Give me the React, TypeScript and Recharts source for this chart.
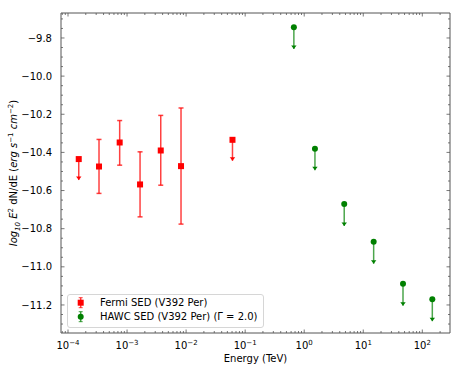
import React from 'react';
import { ComposedChart, Scatter, XAxis, YAxis, ErrorBar, Legend, Label, ReferenceLine } from 'recharts';

// ---------- data ----------
const fermiEnergy = [1.52e-4, 3.35e-4, 7.5e-4, 1.66e-3, 3.72e-3, 8.2e-3, 0.061];
const fermiFlux = [-10.435, -10.474, -10.348, -10.568, -10.39, -10.472, -10.334];
const fermiErrLow = [0.11, 0.141, 0.119, 0.17, 0.182, 0.304, 0.11];
const fermiErrHigh = [0, 0.142, 0.115, 0.171, 0.184, 0.305, 0];
const fermiUpperLimit = [true, false, false, false, false, false, true];

const hawcEnergy = [0.668, 1.52, 4.76, 15.0, 47.1, 147.7];
const hawcFlux = [-9.744, -10.381, -10.671, -10.869, -11.089, -11.17];
const hawcArrow = [0.114, 0.112, 0.115, 0.115, 0.115, 0.115];

const seriesNames = ['Fermi SED (V392 Per)', 'HAWC SED (V392 Per) (\u0393 = 2.0)'];
const xTickExponents = [-4, -3, -2, -1, 0, 1, 2];
const yMajorTicks = [-11.2, -11.0, -10.8, -10.6, -10.4, -10.2, -10.0, -9.8];
const xDomain = [7.61e-5, 294.4];
const yDomain = [-11.347, -9.669];

// ---------- derived tables ----------
const fermiDet = fermiEnergy
  .map((e, i) => ({ x: e, y: fermiFlux[i], err: [fermiErrLow[i], fermiErrHigh[i]], ul: fermiUpperLimit[i] }))
  .filter((d) => !d.ul);
const fermiUL = fermiEnergy
  .map((e, i) => ({ x: e, y: fermiFlux[i], err: [fermiErrLow[i], 0], ul: fermiUpperLimit[i] }))
  .filter((d) => d.ul);
const fermiTips = fermiUL.map((d) => ({ x: d.x, y: d.y - d.err[0] }));
const hawcData = hawcEnergy.map((e, i) => ({ x: e, y: hawcFlux[i], err: [hawcArrow[i], 0] }));
const hawcTips = hawcData.map((d) => ({ x: d.x, y: d.y - d.err[0] }));

const xTicks: number[] = [];
[-5, ...xTickExponents].forEach((p) => {
  for (let m = 1; m <= 9; m++) {
    const v = m * Math.pow(10, p);
    if (v >= xDomain[0] && v <= xDomain[1]) xTicks.push(Number(v.toPrecision(6)));
  }
});
const yTicks: number[] = [];
for (let k = -11.3; k <= -9.69; k += 0.05) yTicks.push(Number(k.toFixed(2)));

// ---------- layout ----------
const W = 463;
const H = 371;
const PLOT_LEFT = 61;
const PLOT_RIGHT = 450;
const PLOT_TOP = 13;
const PLOT_BOTTOM = 333;
const FONT = '"DejaVu Sans", sans-serif';
const AXIS = '#555';
const RED = '#ff0000';
const GREEN = '#008000';

const isMajorX = (v: number) => {
  const lg = Math.log10(v);
  return Math.abs(lg - Math.round(lg)) < 1e-6;
};
const isMajorY = (v: number) => yMajorTicks.some((t) => Math.abs(t - v) < 1e-6);
const fmtMinus = (s: string) => s.replace('-', '\u2212');

const XTick = (props: any) => {
  const { x, payload } = props;
  const v = payload.value;
  const major = isMajorX(v);
  const len = major ? 3.5 : 2;
  const exp = Math.round(Math.log10(v));
  return (
    <g>
      <line x1={x} x2={x} y1={PLOT_BOTTOM} y2={PLOT_BOTTOM - len} stroke={AXIS} strokeWidth={0.8} />
      <line x1={x} x2={x} y1={PLOT_TOP} y2={PLOT_TOP + len} stroke={AXIS} strokeWidth={0.8} />
      {major && (
        <text x={x} y={349} textAnchor="middle" fontSize={10} fontFamily={FONT} fill="#000">
          10
          <tspan dy={-4.5} fontSize={7}>
            {fmtMinus(String(exp))}
          </tspan>
        </text>
      )}
    </g>
  );
};

const YTick = (props: any) => {
  const { y, payload } = props;
  const v = payload.value;
  const major = isMajorY(v);
  const len = major ? 3.5 : 2;
  return (
    <g>
      <line x1={PLOT_LEFT} x2={PLOT_LEFT + len} y1={y} y2={y} stroke={AXIS} strokeWidth={0.8} />
      <line x1={PLOT_RIGHT} x2={PLOT_RIGHT - len} y1={y} y2={y} stroke={AXIS} strokeWidth={0.8} />
      {major && (
        <text x={52} y={y + 3.6} textAnchor="end" fontSize={10} fontFamily={FONT} fill="#000">
          {fmtMinus(v.toFixed(1))}
        </text>
      )}
    </g>
  );
};

const Square = (props: any) => {
  const { cx, cy } = props;
  return <rect x={cx - 3} y={cy - 3} width={6} height={6} fill={RED} />;
};
const Dot = (props: any) => {
  const { cx, cy } = props;
  return <circle cx={cx} cy={cy} r={3} fill={GREEN} />;
};
const makeTip = (color: string) => (props: any) => {
  const { cx, cy } = props;
  return <path d={`M${cx - 2.7},${cy - 3.5} L${cx + 2.7},${cy - 3.5} L${cx},${cy} Z`} fill={color} />;
};
const RedTip = makeTip(RED);
const GreenTip = makeTip(GREEN);

const YLabel = (props: any) => {
  const vb = props.viewBox || {};
  const cy = (vb.y ?? PLOT_TOP) + (vb.height ?? PLOT_BOTTOM - PLOT_TOP) / 2;
  return (
    <text
      transform={`translate(17,${cy}) rotate(-90)`}
      textAnchor="middle"
      fontSize={10}
      fontFamily={FONT}
      fill="#000"
    >
      <tspan fontStyle="italic">log</tspan>
      <tspan fontStyle="italic" fontSize={7} dy={2.5}>10</tspan>
      <tspan fontStyle="italic" dy={-2.5}> E</tspan>
      <tspan fontSize={7} dy={-4}>2</tspan>
      <tspan dy={4}> dN/dE (</tspan>
      <tspan fontStyle="italic">erg s</tspan>
      <tspan fontSize={7} dy={-4}>{'\u22121'}</tspan>
      <tspan fontStyle="italic" dy={4}> cm</tspan>
      <tspan fontSize={7} dy={-4}>{'\u22122'}</tspan>
      <tspan dy={4}>)</tspan>
    </text>
  );
};

const XLabel = (props: any) => {
  const vb = props.viewBox || {};
  const cx = (vb.x ?? PLOT_LEFT) + (vb.width ?? PLOT_RIGHT - PLOT_LEFT) / 2;
  return (
    <text x={cx} y={362} textAnchor="middle" fontSize={10} fontFamily={FONT} fill="#000">
      Energy (TeV)
    </text>
  );
};

const LegendBox = (props: any) => {
  const payload = (props.payload || []).filter((p: any) => seriesNames.includes(p.value));
  return (
    <div
      style={{
        width: 197,
        height: 34,
        boxSizing: 'border-box',
        border: '1px solid #d6d6d6',
        borderRadius: 3,
        background: 'rgba(255,255,255,0.8)',
        position: 'relative',
      }}
    >
      <svg width={197} height={34} style={{ position: 'absolute', left: -1, top: -1 }}>
        {payload.map((p: any, i: number) => {
          const cy = 8.7 + i * 14;
          const color = i === 0 ? RED : GREEN;
          return (
            <g key={i}>
              <line x1={13.7} x2={13.7} y1={cy - 5} y2={cy + 5} stroke={color} strokeOpacity={0.75} strokeWidth={1.5} />
              <line x1={11.7} x2={15.7} y1={cy - 5} y2={cy - 5} stroke={color} strokeOpacity={0.75} strokeWidth={1} />
              <line x1={11.7} x2={15.7} y1={cy + 5} y2={cy + 5} stroke={color} strokeOpacity={0.75} strokeWidth={1} />
              {i === 0 ? (
                <rect x={10.7} y={cy - 3} width={6} height={6} fill={color} />
              ) : (
                <circle cx={13.7} cy={cy} r={3} fill={color} />
              )}
              <text x={33} y={cy + 3.6} fontSize={10} fontFamily={FONT} fill="#000">
                {p.value}
              </text>
            </g>
          );
        })}
      </svg>
    </div>
  );
};

export default function App() {
  return (
    <div style={{ position: 'absolute', left: 0, top: 0, width: W, height: H, background: '#fff' }}>
      <ComposedChart width={W} height={H} margin={{ top: PLOT_TOP, right: W - PLOT_RIGHT, bottom: 0, left: 0 }}>
        <XAxis
          xAxisId="b"
          dataKey="x"
          type="number"
          scale="log"
          domain={xDomain}
          allowDataOverflow
          ticks={xTicks}
          interval={0}
          tick={<XTick />}
          tickLine={false}
          axisLine={{ stroke: AXIS, strokeWidth: 1 }}
          height={H - PLOT_BOTTOM}
        >
          <Label content={<XLabel />} />
        </XAxis>
        <YAxis
          yAxisId="l"
          dataKey="y"
          type="number"
          domain={yDomain}
          allowDataOverflow
          ticks={yTicks}
          interval={0}
          tick={<YTick />}
          tickLine={false}
          axisLine={{ stroke: AXIS, strokeWidth: 1 }}
          width={PLOT_LEFT}
        >
          <Label content={<YLabel />} />
        </YAxis>
        <ReferenceLine xAxisId="b" yAxisId="l" y={yDomain[1]} stroke={AXIS} strokeWidth={1} />
        <ReferenceLine xAxisId="b" yAxisId="l" x={xDomain[1]} stroke={AXIS} strokeWidth={1} />
        <Legend
          layout="horizontal"
          verticalAlign="middle"
          align="center"
          content={<LegendBox />}
          wrapperStyle={{ position: 'absolute', left: 67, top: 294, width: 197, height: 34 }}
        />
        <Scatter
          name={seriesNames[0]}
          xAxisId="b"
          yAxisId="l"
          data={fermiDet}
          shape={<Square />}
          fill={RED}
          isAnimationActive={false}
        >
          <ErrorBar dataKey="err" direction="y" width={2.5} stroke={RED} strokeOpacity={0.75} strokeWidth={1.5} isAnimationActive={false} />
        </Scatter>
        <Scatter
          name="fermi-ul"
          legendType="none"
          xAxisId="b"
          yAxisId="l"
          data={fermiUL}
          shape={<Square />}
          fill={RED}
          isAnimationActive={false}
        >
          <ErrorBar dataKey="err" direction="y" width={0} stroke={RED} strokeOpacity={0.75} strokeWidth={1.5} isAnimationActive={false} />
        </Scatter>
        <Scatter
          name="fermi-tip"
          legendType="none"
          xAxisId="b"
          yAxisId="l"
          data={fermiTips}
          shape={<RedTip />}
          fill={RED}
          isAnimationActive={false}
        />
        <Scatter
          name={seriesNames[1]}
          xAxisId="b"
          yAxisId="l"
          data={hawcData}
          shape={<Dot />}
          fill={GREEN}
          isAnimationActive={false}
        >
          <ErrorBar dataKey="err" direction="y" width={0} stroke={GREEN} strokeOpacity={0.7} strokeWidth={1.5} isAnimationActive={false} />
        </Scatter>
        <Scatter
          name="hawc-tip"
          legendType="none"
          xAxisId="b"
          yAxisId="l"
          data={hawcTips}
          shape={<GreenTip />}
          fill={GREEN}
          isAnimationActive={false}
        />
      </ComposedChart>
    </div>
  );
}
